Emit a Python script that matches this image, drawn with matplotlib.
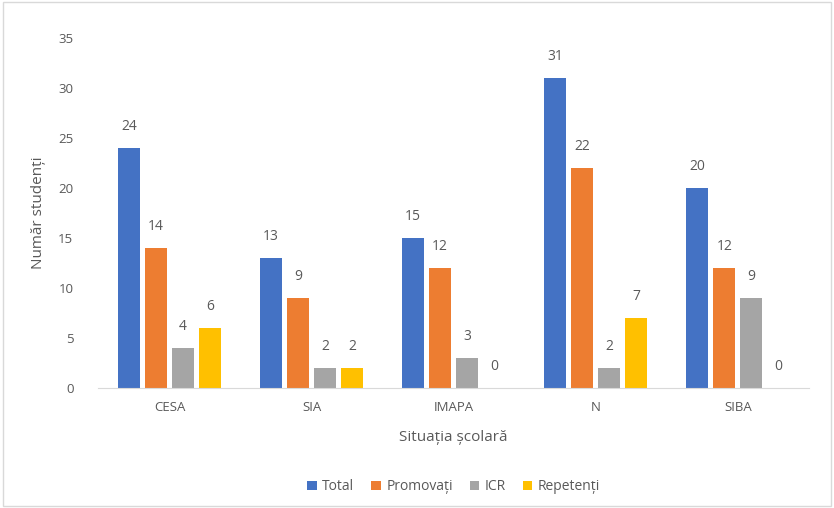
import matplotlib
matplotlib.use("Agg")
import matplotlib.pyplot as plt
import numpy as np

categories = ["CESA", "SIA", "IMAPA", "N", "SIBA"]
series_names = ["Total", "Promovați", "ICR", "Repetenți"]
total = [24, 13, 15, 31, 20]
promovati = [14, 9, 12, 22, 12]
icr = [4, 2, 3, 2, 9]
repetenti = [6, 2, 0, 7, 0]
yticks = [0, 5, 10, 15, 20, 25, 30, 35]

colors = ["#4472C4", "#ED7D31", "#A5A5A5", "#FFC000"]
txt = "#595959"
plt.rcParams['font.family'] = ['Open Sans', 'DejaVu Sans']

fig = plt.figure(figsize=(8.34, 5.08), dpi=100)
fig.patches.append(plt.Rectangle((0.004, 0.004), 0.992, 0.992, transform=fig.transFigure,
                                 fill=False, edgecolor="#D9D9D9", linewidth=1))
ax = fig.add_axes([0.118, 0.236, 0.852, 0.689])

x = np.arange(len(categories))
data = [total, promovati, icr, repetenti]
step = 0.19
w = 0.155
for i, (vals, c, name) in enumerate(zip(data, colors, series_names)):
    pos = x + (i - 1.5) * step
    ax.bar(pos, vals, width=w, color=c, label=name)
    for p, v in zip(pos, vals):
        ax.text(p, v + 1.4, str(v), ha="center", va="bottom", fontsize=10, color=txt)

ax.set_xlim(-0.5, len(categories) - 0.5)
ax.set_ylim(0, 35)
ax.set_yticks(yticks)
ax.set_yticklabels([str(t) for t in yticks], fontsize=9.5, color=txt)
ax.set_xticks(x)
ax.set_xticklabels(categories, fontsize=9.5, color=txt)
ax.tick_params(axis="both", length=0)
ax.tick_params(axis="x", pad=9)
ax.tick_params(axis="y", pad=18)
for s in ["top", "right", "left"]:
    ax.spines[s].set_visible(False)
ax.spines["bottom"].set_color("#D9D9D9")
ax.set_xlabel("Situația școlară", fontsize=11, color=txt, labelpad=12)
ax.set_ylabel("Număr studenți", fontsize=11, color=txt, labelpad=9)
ax.legend(loc="upper center", bbox_to_anchor=(0.5, -0.225), ncol=4, frameon=False,
          fontsize=10, handlelength=0.7, handleheight=0.7, handletextpad=0.4,
          columnspacing=1.2, labelcolor=txt)
fig.savefig("out.png", dpi=100)
